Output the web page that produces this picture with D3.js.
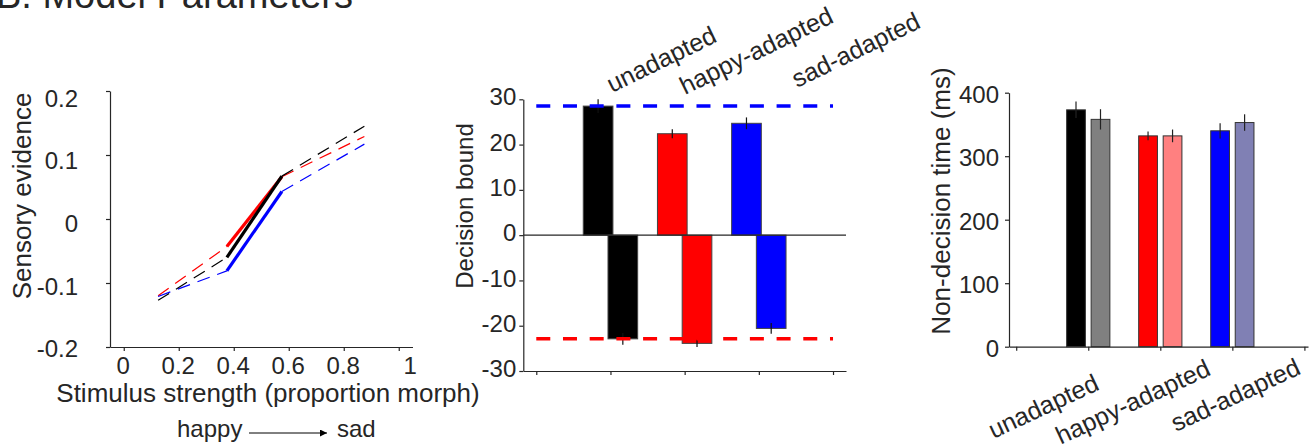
<!DOCTYPE html>
<html>
<head>
<meta charset="utf-8">
<script src="https://cdn.jsdelivr.net/npm/d3@7"></script>
<style>
  html, body { margin: 0; padding: 0; background: #fff; }
  svg { display: block; font-family: "Liberation Sans", Arial, Helvetica, sans-serif; }
  text { fill: #262626; }
</style>
</head>
<body>
<svg id="chart" width="1309" height="448"></svg>
<script>
// ---------------- DATA ----------------
// Panel 1: sensory evidence vs stimulus strength
const stimX = [0.125, 0.375, 0.575, 0.875];
const evUnadapted = [-0.127, -0.060, 0.067, 0.145];
const evHappy = [-0.120, -0.043, 0.066, 0.129];
const evSad = [-0.121, -0.081, 0.043, 0.117];
const p1XTicks = [0, 0.2, 0.4, 0.6, 0.8, 1];
const p1YTicks = [-0.2, -0.1, 0, 0.1, 0.2];

// Panel 2: decision bounds
const conditions = ["unadapted", "happy-adapted", "sad-adapted"];
const upperBound = [28.5, 22.4, 24.7];
const upperErr = [1.5, 1.0, 1.3];
const lowerBound = [-22.9, -23.9, -20.6];
const lowerErr = [1.3, 0.8, 1.2];
const refUpper = 28.5;
const refLower = -22.9;
const p2YTicks = [-30, -20, -10, 0, 10, 20, 30];

// Panel 3: non-decision time (ms)
const ndtFirst = [373, 332, 340];
const ndtFirstErr = [13, 7, 12];
const ndtSecond = [358, 332, 353];
const ndtSecondErr = [16, 10, 13];
const p3YTicks = [0, 100, 200, 300, 400];

const condColors = ["#000000", "#ff0000", "#0000ff"];
const condLight = ["#808080", "#ff8080", "#8080b4"];

// ---------------- DRAW ----------------
const svg = d3.select("#chart");
const TXT = "#262626";
const fmt = d => String(d);

function styleAxis(g) {
  g.selectAll("path.domain").attr("stroke", TXT).attr("stroke-width", 1.2);
  g.selectAll(".tick line").attr("stroke", TXT).attr("stroke-width", 1.2);
  g.selectAll(".tick text").attr("fill", TXT)
    .style("font-family", '"Liberation Sans", Arial, sans-serif').style("font-size", "24px");
}

// Title (mostly cut off at the top)
svg.append("text").attr("x", -4).attr("y", 8)
  .style("font-size", "38px").text("B. Model Parameters");

// ===== Panel 1 =====
const x1 = d3.scaleLinear().domain([-0.05, 1.05]).range([110, 412.5]);
const y1 = d3.scaleLinear().domain([-0.2, 0.2]).range([347, 91]);
const y1Lab = d3.scaleLinear().domain([-0.2, 0.2]).range([349, 98.7]);

const g1y = svg.append("g").attr("transform", `translate(${x1.range()[0]},0)`)
  .call(d3.axisLeft(y1).tickValues(p1YTicks).tickFormat(fmt).tickSize(4).tickSizeOuter(0).tickPadding(28));
styleAxis(g1y);
g1y.selectAll(".tick text").attr("y", d => y1Lab(d) - y1(d));

const g1x = svg.append("g").attr("transform", `translate(0,${y1.range()[0]})`)
  .call(d3.axisBottom(x1).tickValues(p1XTicks).tickFormat(fmt).tickSize(4).tickSizeOuter(0).tickPadding(6));
styleAxis(g1x);
g1x.selectAll(".tick text").attr("x", d => (d === 1 ? 11 : -1));

const series1 = [
  { v: evHappy, c: condColors[1] },
  { v: evSad, c: condColors[2] },
  { v: evUnadapted, c: condColors[0] }
];
const line1 = d3.line().x(d => x1(d[0])).y(d => y1(d[1]));
series1.forEach(s => {
  const pts = stimX.map((x, i) => [x, s.v[i]]);
  svg.append("path").attr("d", line1(pts.slice(0, 2))).attr("fill", "none")
    .attr("stroke", s.c).attr("stroke-width", 1.2).attr("stroke-dasharray", "13,8");
  svg.append("path").attr("d", line1(pts.slice(2, 4))).attr("fill", "none")
    .attr("stroke", s.c).attr("stroke-width", 1.2).attr("stroke-dasharray", "13,8");
  svg.append("path").attr("d", line1(pts.slice(1, 3))).attr("fill", "none")
    .attr("stroke", s.c).attr("stroke-width", 3.2);
});

svg.append("text").attr("x", 268).attr("y", 402).attr("text-anchor", "middle")
  .style("font-size", "26px").text("Stimulus strength (proportion morph)");
svg.append("text").attr("transform", "translate(31,196) rotate(-90)").attr("text-anchor", "middle")
  .style("font-size", "26px").text("Sensory evidence");

// happy -> sad arrow
const defs = svg.append("defs");
defs.append("marker").attr("id", "arrowHead").attr("viewBox", "0 0 10 10")
  .attr("refX", 10).attr("refY", 5).attr("markerWidth", 9).attr("markerHeight", 7)
  .attr("markerUnits", "userSpaceOnUse").attr("orient", "auto")
  .append("path").attr("d", "M0,0 L10,5 L0,10 Z").attr("fill", "#000");
svg.append("text").attr("x", 177).attr("y", 437).style("font-size", "24px").text("happy");
svg.append("line").attr("x1", 249).attr("x2", 327).attr("y1", 433).attr("y2", 433)
  .attr("stroke", "#000").attr("stroke-width", 1).attr("marker-end", "url(#arrowHead)");
svg.append("text").attr("x", 337).attr("y", 437).style("font-size", "24px").text("sad");

// ===== Panel 2 =====
const x2 = d3.scaleLinear().domain([-0.175, 4.175]).range([523.3, 846]);
const y2 = d3.scaleLinear().domain([-30, 30]).range([371, 99.3]);
const bw2 = 0.4, off2 = 1 / 6;

const g2y = svg.append("g").attr("transform", `translate(${x2.range()[0]},0)`)
  .call(d3.axisLeft(y2).tickValues(p2YTicks).tickFormat(fmt).tickSize(4).tickSizeOuter(0).tickPadding(3));
styleAxis(g2y);
g2y.selectAll(".tick text").attr("y", -2);

const g2x = svg.append("g").attr("transform", `translate(0,${y2.range()[0]})`)
  .call(d3.axisBottom(x2).tickValues([0, 1, 2, 3, 4]).tickFormat("").tickSize(4).tickSizeOuter(0));
styleAxis(g2x);

conditions.forEach((c, i) => {
  const cu = i + 1 - off2, cl = i + 1 + off2;
  svg.append("rect").attr("x", x2(cu - bw2 / 2)).attr("width", x2(cu + bw2 / 2) - x2(cu - bw2 / 2))
    .attr("y", y2(upperBound[i])).attr("height", y2(0) - y2(upperBound[i]))
    .attr("fill", condColors[i]).attr("stroke", "#444").attr("stroke-width", 1);
  svg.append("rect").attr("x", x2(cl - bw2 / 2)).attr("width", x2(cl + bw2 / 2) - x2(cl - bw2 / 2))
    .attr("y", y2(0)).attr("height", y2(lowerBound[i]) - y2(0))
    .attr("fill", condColors[i]).attr("stroke", "#444").attr("stroke-width", 1);
  svg.append("line").attr("x1", x2(cu)).attr("x2", x2(cu))
    .attr("y1", y2(upperBound[i] + upperErr[i])).attr("y2", y2(upperBound[i] - upperErr[i]))
    .attr("stroke", "#111").attr("stroke-width", 1.2);
  svg.append("line").attr("x1", x2(cl)).attr("x2", x2(cl))
    .attr("y1", y2(lowerBound[i] + lowerErr[i])).attr("y2", y2(lowerBound[i] - lowerErr[i]))
    .attr("stroke", "#111").attr("stroke-width", 1.2);
});
svg.append("line").attr("x1", x2.range()[0]).attr("x2", x2.range()[1])
  .attr("y1", y2(0)).attr("y2", y2(0)).attr("stroke", TXT).attr("stroke-width", 1.2);
svg.append("line").attr("x1", x2(0)).attr("x2", x2(4)).attr("y1", y2(refUpper)).attr("y2", y2(refUpper))
  .attr("stroke", "#0000ff").attr("stroke-width", 3.5).attr("stroke-dasharray", "14,12.7");
svg.append("line").attr("x1", x2(0)).attr("x2", x2(4)).attr("y1", y2(refLower)).attr("y2", y2(refLower))
  .attr("stroke", "#ff0000").attr("stroke-width", 3.5).attr("stroke-dasharray", "14,12.7");

svg.append("text").attr("transform", "translate(473,206) rotate(-90)").attr("text-anchor", "middle")
  .style("font-size", "24px").text("Decision bound");

const topLabelPos = [[612, 93], [685, 95], [797, 88]];
conditions.forEach((c, i) => {
  svg.append("text")
    .attr("transform", `translate(${topLabelPos[i][0]},${topLabelPos[i][1]}) rotate(-26)`)
    .style("font-size", "25px").text(c);
});

// ===== Panel 3 =====
const x3 = d3.scaleLinear().domain([-0.1, 4.05]).range([1009, 1308]);
const y3 = d3.scaleLinear().domain([0, 400]).range([346.7, 92.7]);
const bw3 = 0.26, off3 = 0.17;

const g3y = svg.append("g").attr("transform", `translate(${x3.range()[0]},0)`)
  .call(d3.axisLeft(y3).tickValues(p3YTicks).tickFormat(fmt).tickSize(4).tickSizeOuter(0).tickPadding(6));
styleAxis(g3y);
g3y.selectAll(".tick text").attr("y", 2);

conditions.forEach((c, i) => {
  const pairs = [
    { cx: i + 1 - off3, v: ndtFirst[i], e: ndtFirstErr[i], col: condColors[i] },
    { cx: i + 1 + off3, v: ndtSecond[i], e: ndtSecondErr[i], col: condLight[i] }
  ];
  pairs.forEach(p => {
    svg.append("rect").attr("x", x3(p.cx - bw3 / 2)).attr("width", x3(p.cx + bw3 / 2) - x3(p.cx - bw3 / 2))
      .attr("y", y3(p.v)).attr("height", y3(0) - y3(p.v))
      .attr("fill", p.col).attr("stroke", "#333").attr("stroke-width", 1);
    svg.append("line").attr("x1", x3(p.cx)).attr("x2", x3(p.cx))
      .attr("y1", y3(p.v + p.e)).attr("y2", y3(p.v - p.e))
      .attr("stroke", "#222").attr("stroke-width", 1.2);
  });
});

const g3x = svg.append("g").attr("transform", `translate(0,${y3.range()[0]})`)
  .call(d3.axisBottom(x3).tickValues([0, 1, 2, 3, 4]).tickFormat("").tickSize(4).tickSizeOuter(0));
styleAxis(g3x);

svg.append("text").attr("transform", "translate(950,201) rotate(-90)").attr("text-anchor", "middle")
  .style("font-size", "26px").text("Non-decision time (ms)");

const bottomLabelPos = [[1100.5, 389], [1212, 374.3], [1302, 373.3]];
conditions.forEach((c, i) => {
  svg.append("text")
    .attr("transform", `translate(${bottomLabelPos[i][0]},${bottomLabelPos[i][1]}) rotate(-25)`)
    .attr("text-anchor", "end").style("font-size", "25px").text(c);
});
</script>
</body>
</html>
